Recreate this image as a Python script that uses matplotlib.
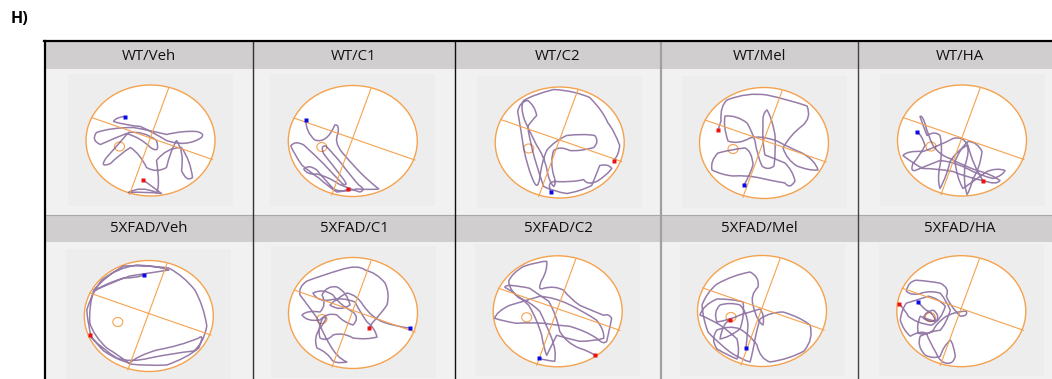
import matplotlib
matplotlib.use('Agg')
import matplotlib.pyplot as plt
from matplotlib.patches import Ellipse, Rectangle, PathPatch
from matplotlib.path import Path

# group names, one row per genotype
groups_top = ['WT/Veh', 'WT/C1', 'WT/C2', 'WT/Mel', 'WT/HA']
groups_bottom = ['5XFAD/Veh', '5XFAD/C1', '5XFAD/C2', '5XFAD/Mel', '5XFAD/HA']

# swim paths in tracker pixels, relative to pool centre (x right, y down)
# first point = start (blue), last point = end (red)
path_wt_veh = [(-26, -24), (-35, -23), (-37, -19), (-24, -15), (-10, -14), (3, -8), (16, 0), (36, 7),
               (51, -3), (55, -7), (46, -9), (33, -10), (16, -6), (0, -10), (-17, -13), (-40, -13),
               (-54, -8), (-60, 0), (-50, 4), (-37, -2), (-24, -7), (-10, -3), (0, 7), (10, 14), (6, 0),
               (-7, -10), (-22, -8), (-35, 7), (-44, 17), (-52, 28), (-40, 23), (-30, 13), (-20, 7),
               (-10, 14), (-4, 27), (6, 33), (16, 27), (20, 10), (26, 0), (34, 11), (31, 30), (36, 42),
               (42, 37), (40, 20), (31, 7), (16, 7), (6, 20), (10, 47), (6, 52), (-10, 45), (-22, 52),
               (-7, 51), (11, 53), (3, 47), (-8, 39)]
path_wt_c1 = [(-47, -21), (-47, -9), (-38, -1), (-26, 3), (-18, -16), (-13, -17), (-15, -7), (-19, 1),
              (-11, 11), (-1, 23), (9, 33), (17, 41), (26, 48), (17, 49), (4, 48), (-6, 50), (-16, 51),
              (-24, 46), (-34, 37), (-43, 31), (-51, 24), (-58, 14), (-62, 5), (-58, -1), (-49, 4),
              (-39, 13), (-29, 23), (-19, 34), (-10, 43), (-3, 46), (-11, 36), (-21, 23), (-29, 13),
              (-33, 4), (-27, 5), (-19, 13), (-11, 23), (-3, 34), (6, 44), (14, 49), (7, 51), (-3, 48),
              (-14, 43), (-24, 36), (-36, 33), (-46, 34), (-49, 28), (-44, 23), (-36, 29), (-28, 39),
              (-19, 48), (-11, 52), (-5, 48)]
path_wt_c2 = [(-9, 49), (-13, 39), (-5, 39), (14, 40), (24, 37), (27, 43), (37, 39), (47, 33), (52, 26),
              (49, 21), (40, 23), (37, 31), (32, 43), (20, 49), (7, 51), (-6, 49), (-16, 44), (-20, 33),
              (-25, 16), (-30, -1), (-32, -16), (-28, -22), (-23, -27), (-25, -37), (-32, -42), (-40, -41),
              (-42, -31), (-39, -14), (-36, 6), (-32, 26), (-26, 39), (-22, 48), (-20, 36), (-18, 19),
              (-13, 8), (-6, -1), (7, -7), (24, -9), (35, -7), (40, -1), (34, 5), (20, 9), (10, 8), (0, 3),
              (-6, 8), (-10, 19), (-6, 33), (-3, 41), (-6, 44), (-11, 39), (-13, 26), (-16, 13), (-23, 3),
              (-30, -11), (-35, -22), (-40, -36), (-36, -42), (-26, -48), (-6, -53), (14, -52), (30, -45),
              (43, -32), (48, -20), (55, -11), (60, 3), (59, 13), (54, 18)]
path_wt_mel = [(-20, 42), (-14, 32), (-11, 22), (-12, 8), (-19, 5), (-31, 6), (-46, 10), (-54, 18),
               (-52, 27), (-42, 32), (-31, 33), (-17, 32), (-4, 35), (9, 38), (21, 40), (26, 47), (31, 38),
               (29, 28), (21, 20), (9, 15), (1, 12), (-2, -2), (-1, -18), (-2, -30), (3, -33), (8, -25),
               (11, -8), (12, 8), (10, 23), (4, 28), (-2, 23), (-7, 12), (-9, -2), (-12, -12), (-17, -20),
               (-27, -28), (-39, -27), (-41, -17), (-36, -2), (-26, 2), (-14, -5), (-4, -8), (13, -2),
               (26, 5), (38, 10), (51, 17), (54, 27), (46, 28), (33, 23), (23, 17), (19, 5), (26, -8),
               (38, -17), (48, -25), (43, -37), (26, -43), (3, -48), (-17, -51), (-37, -43), (-44, -37),
               (-43, -22), (-46, -13)]
path_wt_ha = [(-45, -9), (-40, -5), (-37, 5), (-42, 15), (-49, 23), (-52, 31), (-47, 30), (-35, 25),
              (-22, 20), (-9, 21), (5, 28), (18, 35), (31, 38), (41, 35), (43, 30), (35, 27), (25, 31),
              (11, 41), (1, 48), (-5, 38), (-7, 21), (-2, 8), (6, 1), (15, 1), (20, 11), (18, 28), (11, 38),
              (8, 50), (5, 54), (1, 41), (3, 25), (8, 10), (5, 5), (-5, 10), (-12, 21), (-15, 35), (-22, 48),
              (-25, 38), (-22, 25), (-19, 8), (-22, -5), (-27, -10), (-35, -5), (-39, -15), (-42, -24),
              (-40, -26), (-37, -17), (-34, -5), (-29, 5), (-22, 15), (-12, 18), (1, 25), (15, 30),
              (28, 33), (38, 40), (35, 45), (21, 40), (8, 38), (-9, 31), (-25, 28), (-39, 28), (-49, 23),
              (-59, 15), (-55, 10), (-39, 11), (-22, 5), (-9, -2), (1, -5), (6, 5), (11, 25), (21, 40)]

path_5x_veh = [(-5, -41), (-12, -38), (-25, -38), (-42, -33), (-55, -25), (-39, -33), (-19, -40), (1, -43),
               (20, -46), (8, -50), (-12, -51), (-32, -48), (-47, -36), (-57, -23), (-62, -6), (-61, 10),
               (-57, 22), (-45, 34), (-32, 42), (-19, 47), (1, 42), (25, 37), (45, 35), (55, 27), (58, 10),
               (55, -10), (46, -26), (35, -40), (20, -48), (-2, -51), (-25, -50), (-42, -41), (-55, -26),
               (-60, -10), (-59, 7), (-55, 20), (-42, 32), (-29, 40), (-19, 48), (-2, 50), (18, 49),
               (38, 42), (50, 32), (56, 17), (50, 22), (31, 30), (8, 34), (-12, 40), (-19, 47), (-32, 44),
               (-45, 35), (-55, 25), (-59, 19)]
path_5x_c1 = [(57, 15), (44, 14), (30, 9), (19, 5), (10, -8), (4, -18), (-6, -20), (-16, -15), (-23, -8),
              (-13, -1), (-3, -8), (-6, -21), (-16, -26), (-26, -28), (-31, -18), (-26, -8), (-33, -1),
              (-46, -3), (-51, 2), (-46, 9), (-33, 7), (-26, -1), (-16, 2), (-10, 9), (0, 12), (7, 5),
              (0, -1), (-13, -8), (-20, -18), (-30, -25), (-40, -20), (-36, -11), (-23, -13), (-10, -16),
              (2, -11), (7, -1), (14, 9), (22, 15), (24, 24), (14, 27), (0, 25), (-10, 19), (-20, 22),
              (-26, 29), (-33, 25), (-36, 15), (-30, 5), (-23, 2), (-33, 15), (-40, 25), (-36, 35),
              (-26, 39), (-21, 47), (-18, 51), (-6, 49), (-16, 45), (-23, 32), (-31, 19), (-36, 5),
              (-43, -5), (-53, -18), (-55, -26), (-46, -32), (-30, -38), (-13, -43), (5, -49), (12, -43),
              (24, -40), (32, -30), (37, -20), (34, -8), (27, 2), (20, 9), (16, 15)]
path_5x_c2 = [(-19, 47), (-13, 49), (-3, 50), (-1, 40), (-6, 27), (-11, 14), (-18, 0), (-28, -10),
              (-38, -13), (-48, -20), (-49, -30), (-46, -38), (-34, -45), (-18, -50), (-11, -50), (-10, -41),
              (-16, -31), (-21, -20), (-14, -23), (-3, -26), (6, -21), (12, -13), (22, -6), (36, 0), (46, 4),
              (51, 2), (54, 7), (52, 17), (49, 30), (46, 34), (39, 27), (29, 20), (12, 15), (-1, 14),
              (-14, 12), (-28, 11), (-41, 12), (-54, 10), (-63, 7), (-61, 0), (-48, -6), (-31, -11),
              (-18, -15), (-4, -14), (9, -8), (26, 0), (39, 9), (47, 19), (46, 27), (36, 30), (22, 30),
              (9, 27), (-1, 24), (-6, 34), (-11, 44), (-14, 37), (-16, 24), (-21, 7), (-29, -6), (-39, -16),
              (-51, -23), (-56, -25), (-48, -26), (-36, -25), (-28, -23), (-18, -16), (-9, -10), (-1, 4),
              (2, 20), (9, 32), (22, 37), (32, 40), (37, 44)]
path_5x_mel = [(-16, 37), (-15, 28), (-14, 14), (-15, 1), (-22, -6), (-32, -9), (-42, -6), (-49, 1),
               (-45, 11), (-32, 9), (-22, 4), (-12, 1), (-2, -2), (3, 4), (1, 14), (-5, 11), (-9, -6),
               (-12, -16), (-4, -24), (-2, -34), (-12, -39), (-29, -36), (-45, -27), (-55, -19), (-60, -6),
               (-59, 8), (-54, 21), (-45, 31), (-32, 41), (-22, 48), (-12, 51), (-9, 41), (-7, 28), (-5, 18),
               (-2, 8), (8, 1), (21, 1), (38, 6), (48, 14), (52, 28), (42, 40), (28, 48), (8, 51), (-2, 48),
               (-5, 34), (-12, 24), (-22, 18), (-32, 14), (-45, 19), (-52, 28), (-45, 38), (-35, 44),
               (-25, 48), (-22, 41), (-25, 28), (-32, 21), (-42, 14), (-52, 8), (-62, 4), (-59, -6),
               (-45, -12), (-29, -12), (-19, -9), (-17, 4), (-22, 18), (-32, 26), (-42, 28), (-39, 11),
               (-32, 9)]
path_5x_ha = [(-43, -9), (-40, -5), (-35, -1), (-28, 2), (-26, 9), (-31, 12), (-38, 7), (-36, 0), (-28, -1),
              (-21, 4), (-25, 10), (-33, 9), (-41, 5), (-45, 14), (-43, 22), (-35, 25), (-28, 19), (-25, 12),
              (-15, 5), (-5, 0), (5, 0), (7, 5), (-1, 5), (-11, -5), (-15, -15), (-11, -23), (-21, -28),
              (-31, -30), (-45, -31), (-53, -30), (-55, -20), (-50, -15), (-40, -18), (-31, -21), (-21, -18),
              (-15, -11), (-11, -1), (-15, 12), (-21, 19), (-31, 20), (-41, 25), (-45, 35), (-36, 44),
              (-28, 48), (-21, 45), (-18, 35), (-11, 29), (-8, 32), (-6, 45), (-8, 53), (-14, 52), (-21, 52),
              (-25, 42), (-31, 32), (-35, 22), (-41, 19), (-51, 25), (-58, 19), (-61, 9), (-60, -1),
              (-55, -8), (-45, -11), (-33, -15), (-23, -13), (-16, -5), (-20, 9), (-30, 14), (-45, 12),
              (-53, 5), (-56, -1), (-62, -7)]

paths_top = [path_wt_veh, path_wt_c1, path_wt_c2, path_wt_mel, path_wt_ha]
paths_bottom = [path_5x_veh, path_5x_c1, path_5x_c2, path_5x_mel, path_5x_ha]

# pool geometry (tracker pixels)
POOL_RX, POOL_RY = 64.5, 55.5
quad_line_a = [(18, -52), (-21, 54)]
quad_line_b = [(-59, -23), (62, 19)]
platform = (-31, 6)

# table layout in figure pixels
W, H = 1052, 379
col_edges = [44, 253, 455, 661, 858, 1062]
centres_top = [(150.5, 140.5), (352.8, 141), (559.7, 142.5), (764, 143), (962, 140.5)]
centres_bottom = [(148.8, 316), (353, 313), (557.7, 311.3), (762, 311), (961.3, 311.2)]

ORANGE = '#f5a24e'
PURPLE = '#6a4584'
CELL = '#f1f1f1'
HEADER = '#d0cece'

fig = plt.figure(figsize=(W / 100, H / 100), dpi=100)
bg = fig.add_axes([0, 0, 1, 1])
bg.set_xlim(0, W)
bg.set_ylim(H, 0)
bg.axis('off')

bg.text(11, 19, 'H)', fontsize=11.5, fontweight='bold', family='Open Sans', va='center', ha='left')

# cells and headers
bg.add_patch(Rectangle((44, 41), W - 44, H - 41, facecolor=CELL, edgecolor='none'))
bg.add_patch(Rectangle((44, 42), W - 44, 27, facecolor=HEADER, edgecolor='none'))
bg.add_patch(Rectangle((44, 215), W - 44, 27, facecolor=HEADER, edgecolor='none'))
bg.plot([44, W], [214.5, 214.5], color='#a8a8a8', lw=0.8)

for i in range(5):
    xc = (col_edges[i] + col_edges[i + 1]) / 2
    bg.text(xc, 56, groups_top[i], ha='center', va='center', fontsize=10.8, family='Open Sans', color='#111111')
    bg.text(xc, 229, groups_bottom[i], ha='center', va='center', fontsize=10.8, family='Open Sans', color='#111111')

sep_styles = {253: ('#333333', 1.0), 455: ('#111111', 1.0), 661: ('#a0a0a0', 1.6), 858: ('#444444', 1.0)}
for x, (c, lw) in sep_styles.items():
    bg.plot([x, x], [42, H], color=c, lw=lw)
bg.plot([44, W], [41, 41], color='black', lw=1.6)
bg.plot([44.5, 44.5], [41, H], color='black', lw=1.6)


def swim_path(points):
    # quadratic bezier chain: odd points pull the curve, even points lie on it
    verts = [points[0]]
    codes = [Path.MOVETO]
    i = 1
    while i + 1 < len(points):
        verts += [points[i], points[i + 1]]
        codes += [Path.CURVE3, Path.CURVE3]
        i += 2
    if i < len(points):
        verts.append(points[i])
        codes.append(Path.LINETO)
    return Path(verts, codes)


def draw_pool(centre, path):
    cx, cy = centre
    left, right, top, bottom = -82.5, 82.5, -67, 65
    ax = fig.add_axes([(cx + left) / W, 1 - (cy + bottom) / H, (right - left) / W, (bottom - top) / H])
    ax.set_xlim(left, right)
    ax.set_ylim(bottom, top)
    ax.set_facecolor('#ededed')
    for s in ax.spines.values():
        s.set_visible(False)
    ax.set_xticks([])
    ax.set_yticks([])
    ax.add_patch(Ellipse((0, 0), 2 * POOL_RX, 2 * POOL_RY, facecolor='white', edgecolor=ORANGE, lw=1.0))
    for ln in (quad_line_a, quad_line_b):
        ax.plot([ln[0][0], ln[1][0]], [ln[0][1], ln[1][1]], color=ORANGE, lw=0.8)
    ax.add_patch(Ellipse(platform, 10, 9, facecolor='none', edgecolor=ORANGE, lw=0.8))
    ax.add_patch(PathPatch(swim_path(path), facecolor='none', edgecolor=PURPLE, lw=1.1, alpha=0.7,
                           joinstyle='round'))
    ax.plot(path[0][0], path[0][1], 's', color='#0a0ae6', ms=2.5, mec='none')
    ax.plot(path[-1][0], path[-1][1], 's', color='#ee1010', ms=2.5, mec='none')


for c, p in zip(centres_top, paths_top):
    draw_pool(c, p)
for c, p in zip(centres_bottom, paths_bottom):
    draw_pool(c, p)

fig.savefig('out.png', dpi=100)
